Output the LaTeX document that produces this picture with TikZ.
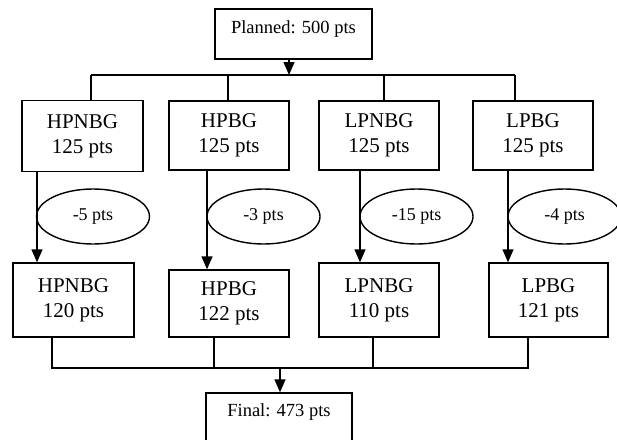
\documentclass[tikz,border=0pt]{standalone}
\usepackage{fontspec}
\setmainfont{Liberation Serif}
\usetikzlibrary{arrows.meta,shapes.geometric}
\begin{document}
\begin{tikzpicture}[x=1pt,y=-1pt,
  box/.style={draw,line width=1.4pt,rectangle,inner sep=0pt,align=center,font=\fontsize{21}{25}\selectfont},
  oval/.style={draw,line width=1.4pt,ellipse,inner sep=0pt,minimum width=113pt,minimum height=55pt,font=\fontsize{18}{21}\selectfont},
  wire/.style={line width=1.4pt},
  arr/.style={line width=1.4pt,-{Triangle[width=11pt,length=13pt]}},
  txt/.style={inner sep=0pt,font=\fontsize{18.5}{22}\selectfont}]
\useasboundingbox (0,0) rectangle (617,439);
\clip (0,0) rectangle (617,439);
% top box
\node[box,minimum width=157pt,minimum height=50pt] (plan) at (293.5,34) {};
\node[txt] (plantxt) at (293.5,29) {Planned: 500 pts};
% first row
\node[box,minimum width=121pt,minimum height=71pt] (a1) at (82.5,136) {HPNBG\\125 pts};
\node[box,minimum width=120pt,minimum height=69pt] (a2) at (229,135.5) {HPBG\\125 pts};
\node[box,minimum width=120pt,minimum height=69pt] (a3) at (379,135.5) {LPNBG\\125 pts};
\node[box,minimum width=120pt,minimum height=69pt] (a4) at (533,135.5) {LPBG\\125 pts};
% second row
\node[box,minimum width=121pt,minimum height=74pt] (b1) at (73.5,300) {HPNBG\\120 pts};
\node[box,minimum width=120pt,minimum height=67pt] (b2) at (229,303.5) {HPBG\\122 pts};
\node[box,minimum width=120pt,minimum height=74pt] (b3) at (379,300) {LPNBG\\110 pts};
\node[box,minimum width=119pt,minimum height=74pt] (b4) at (548.5,300) {LPBG\\121 pts};
% ellipses
\node[oval] (e1) at (93,216.5) {-5 pts};
\node[oval] (e2) at (263.5,216.5) {-3 pts};
\node[oval] (e3) at (416.5,216.5) {-15 pts};
\node[oval] (e4) at (564.5,216.5) {-4 pts};
% final box
\node[box,minimum width=146pt,minimum height=60pt] (fin) at (279,423) {};
\node[txt] (fintxt) at (279,412) {Final: 473 pts};
% top bus
\coordinate (tb) at (289,75);
\coordinate (tl) at (91,75);
\coordinate (tr) at (515,75);
\coordinate (t2) at (228,75);
\coordinate (t3) at (384,75);
\draw[arr] (plan.south -| tb) -- (tb);
\draw[wire] (tl) -- (tr);
\draw[wire] (tl) -- (tl |- a1.north);
\draw[wire] (t2) -- (t2 |- a2.north);
\draw[wire] (t3) -- (t3 |- a3.north);
\draw[wire] (tr) -- (tr |- a4.north);
% down arrows
\coordinate (d1) at (37,0);
\coordinate (d2) at (207,0);
\coordinate (d3) at (360,0);
\coordinate (d4) at (508,0);
\draw[arr] (a1.south -| d1) -- (b1.north -| d1);
\draw[arr] (a2.south -| d2) -- (b2.north -| d2);
\draw[arr] (a3.south -| d3) -- (b3.north -| d3);
\draw[arr] (a4.south -| d4) -- (b4.north -| d4);
% bottom bus
\coordinate (bl) at (52,368);
\coordinate (br) at (528,368);
\coordinate (bb2) at (214,368);
\coordinate (bb3) at (373,368);
\coordinate (bm) at (280,368);
\draw[wire] (bl |- b1.south) -- (bl) -- (br) -- (br |- b4.south);
\draw[wire] (bb2 |- b2.south) -- (bb2);
\draw[wire] (bb3 |- b3.south) -- (bb3);
\draw[arr] (bm) -- (bm |- fin.north);
\end{tikzpicture}
\end{document}
